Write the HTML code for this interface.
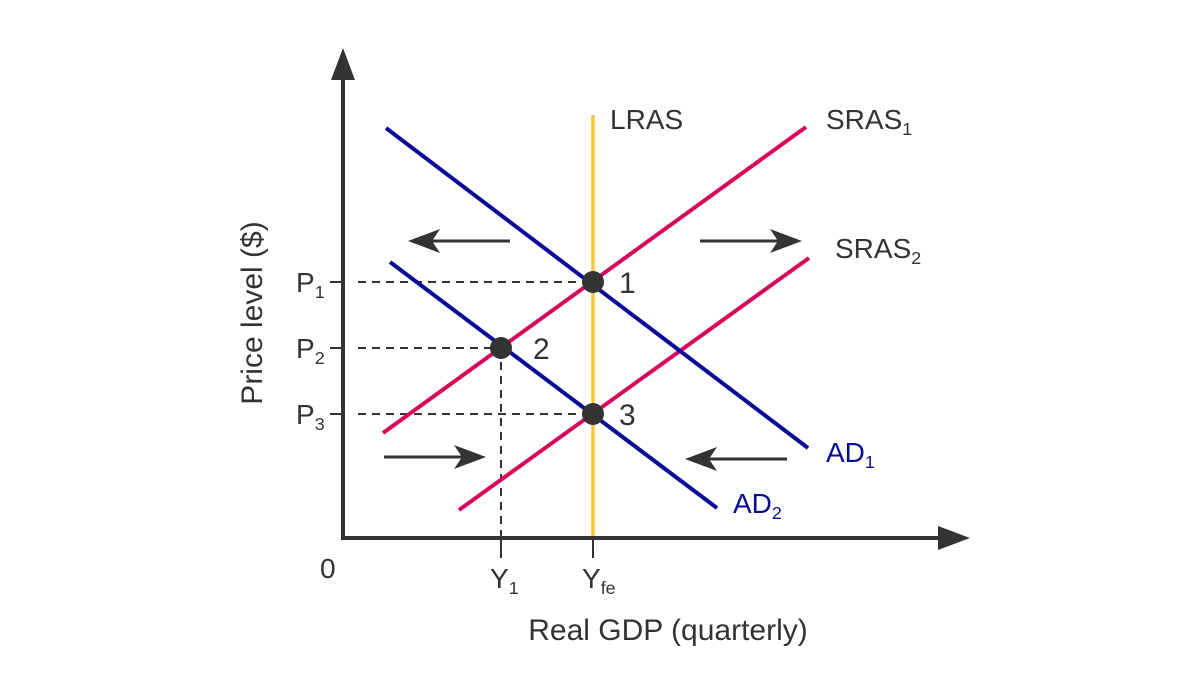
<!DOCTYPE html>
<html><head><meta charset="utf-8"><style>
html,body{margin:0;padding:0;background:#fff;}
svg{display:block;font-family:"Liberation Sans",sans-serif;}
text{fill:#333;}
</style></head><body>
<svg id="chart" width="1200" height="698" viewBox="0 0 1200 698" xmlns="http://www.w3.org/2000/svg"></svg>
<script>
// data (units: x 0..62, y 0..49)
const curveNames = ["LRAS","SRAS1","SRAS2","AD1","AD2"];
const curveX1 = [25, 4, 11.6, 4.3, 4.7];
const curveY1 = [0, 10.5, 2.8, 41, 27.6];
const curveX2 = [25, 46.3, 46.6, 46.5, 37.4];
const curveY2 = [42.3, 41.1, 28, 9, 3];
const pointNames = ["1","2","3"];
const pointX = [25, 15.8, 25];
const pointY = [25.6, 19, 12.4];
const priceLabels = ["P1","P2","P3"];
const outputLabels = ["Y1","Yfe"];
const outputX = [15.8, 25];

const xs = v => 343 + v*10;
const ys = v => 538 - v*10;
const svg = document.getElementById('chart');
const NS = "http://www.w3.org/2000/svg";
function mk(tag, attrs, parent){const e=document.createElementNS(NS,tag);for(const k in attrs)e.setAttribute(k,attrs[k]);(parent||svg).appendChild(e);return e;}
function txt(x,y,main,sub,size,color,anchor){
  const t=mk('text',{x:x,y:y,'font-size':size,'text-anchor':anchor||'start'});
  if(color)t.setAttribute('style','fill:'+color);
  t.appendChild(document.createTextNode(main));
  if(sub){const s=mk('tspan',{'font-size':size*0.64,dy:6},t);s.textContent=sub;}
  return t;
}
const dark="#333";
mk('defs',{}).innerHTML='<marker id="ah" markerWidth="10" markerHeight="10" refX="0" refY="5" orient="auto" markerUnits="userSpaceOnUse"></marker>';

// dashed guides
for(let i=0;i<3;i++){
  const d=mk('line',{x1:358,y1:ys(pointY[i]),x2:xs(pointX[i]),y2:ys(pointY[i]),stroke:dark,'stroke-width':2,'stroke-dasharray':'8,6'});
  
  
  const tk=mk('line',{x1:330,y1:ys(pointY[i]),x2:343,y2:ys(pointY[i]),stroke:dark,'stroke-width':2});
  
  
  const l=txt(296,ys(pointY[i])+10,'P',String(i+1),28,null,'start');
  
  
}
const vd=mk('line',{x1:xs(pointX[1]),y1:ys(pointY[1]),x2:xs(pointX[1]),y2:538,stroke:dark,'stroke-width':2,'stroke-dasharray':'8,6'});


for(let i=0;i<2;i++){
  const tk=mk('line',{x1:xs(outputX[i]),y1:538,x2:xs(outputX[i]),y2:558,stroke:dark,'stroke-width':2});
  
  
  const l=txt(xs(outputX[i])-11,588,'Y',i==0?'1':'fe',28,null,'start');
  
  
}
// curves
const colors=["#f9c73a","#d9095a","#d9095a","#0a0a99","#0a0a99"];
for(let i=0;i<5;i++){
  const c=mk('line',{x1:xs(curveX1[i]),y1:ys(curveY1[i]),x2:xs(curveX2[i]),y2:ys(curveY2[i]),stroke:colors[i],'stroke-width':i==0?3.5:4,'stroke-linecap':'butt'});
  
  
}
// axes
const ax=mk('path',{d:'M343,70 L343,538 L950,538',fill:'none',stroke:dark,'stroke-width':4});


const ay=mk('path',{d:'M331,80 L343,48 L355,80 Z',fill:dark});


const axa=mk('path',{d:'M938,526 L970,538 L938,550 Z',fill:dark});


// points
for(let i=0;i<3;i++){
  const p=mk('circle',{cx:xs(pointX[i]),cy:ys(pointY[i]),r:11,fill:dark});
  
  
  const l=txt(xs(pointX[i])+(i==1?32:26),ys(pointY[i])+11,pointNames[i],null,30);
  
  
}
// shift arrows
function arrow(x1,x2,y,name){
  const dir=Math.sign(x2-x1);
  const g=mk('g',{});
  
  
  mk('line',{x1:x1,y1:y,x2:x2-dir*20,y2:y,stroke:dark,'stroke-width':3},g);
  mk('path',{d:`M${x2},${y} L${x2-dir*32},${y-12} L${x2-dir*24},${y} L${x2-dir*32},${y+12} Z`,fill:dark},g);
}
arrow(510,408,241,'shift-arrow-ad-left');
arrow(700,802,241,'shift-arrow-sras-right');
arrow(384,486,457,'shift-arrow-sras-lower');
arrow(787,685,459,'shift-arrow-ad-lower');
// curve labels
const labs=[[610,129,'LRAS',null,null],[826,129,'SRAS','1',null],[835,258,'SRAS','2',null],[826,462,'AD','1','#0a0a99'],[733,513,'AD','2','#0a0a99']];
labs.forEach((a,i)=>{const t=txt(a[0],a[1],a[2],a[3],28,a[4]);
  
  });
const z=txt(320,578,'0',null,28);


const xt=txt(668,640,'Real GDP (quarterly)',null,30,null,'middle');


const yt=txt(0,0,'Price level ($)',null,30,null,'middle');
yt.setAttribute('transform','translate(262,313) rotate(-90)');


</script>
</body></html>
